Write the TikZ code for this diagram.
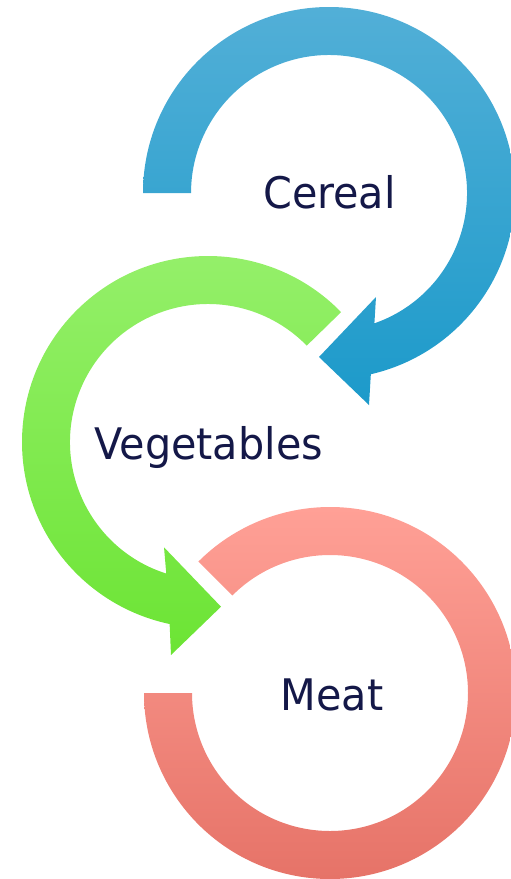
\documentclass[tikz,border=0pt]{standalone}
\usepackage{fontspec}
\setmainfont{DejaVu Sans}[FakeStretch=0.95]
\definecolor{txt}{RGB}{20,24,72}
\definecolor{cerT}{RGB}{82,175,215}
\definecolor{cerB}{RGB}{28,154,202}
\definecolor{vegT}{RGB}{150,240,108}
\definecolor{vegB}{RGB}{108,228,52}
\definecolor{meatT}{RGB}{255,160,150}
\definecolor{meatB}{RGB}{230,115,104}
\begin{document}
\begin{tikzpicture}[x=1pt,y=1pt,
  lbl/.style={font=\fontsize{43.5}{43.5}\selectfont, text=txt, inner sep=0pt, anchor=base}]
\useasboundingbox (0,0) rectangle (511,-879);
% Cereal arrow
\shade[top color=cerT, bottom color=cerB]
  (143,-193) arc[start angle=180, end angle=-77, radius=186]
  -- (369,-405) -- (319,-357) -- (376,-297)
  -- (374.39,-323.33) arc[start angle=-70.8, end angle=180, radius=138] -- cycle;
% Vegetables arrow
\shade[top color=vegT, bottom color=vegB]
  (341.1,-312.1) arc[start angle=44.3, end angle=258.1, radius=186]
  -- (171,-655) -- (221,-606.7) -- (164,-547.3)
  -- (166.27,-573.54) arc[start angle=252.4, end angle=44.3, radius=138] -- cycle;
% Meat ring
\shade[top color=meatT, bottom color=meatB]
  (144,-693) arc[start angle=180, end angle=495, radius=186]
  -- (232.42,-595.42) arc[start angle=495, end angle=180, radius=138] -- cycle;
% Labels
\node[lbl] (cereal) at (329.5,-208.3) {Cereal};
\node[lbl] (veg) at (208.8,-459.3) {Vegetables};
\node[lbl] (meat) at (332,-710.7) {Meat};
\end{tikzpicture}
\end{document}
